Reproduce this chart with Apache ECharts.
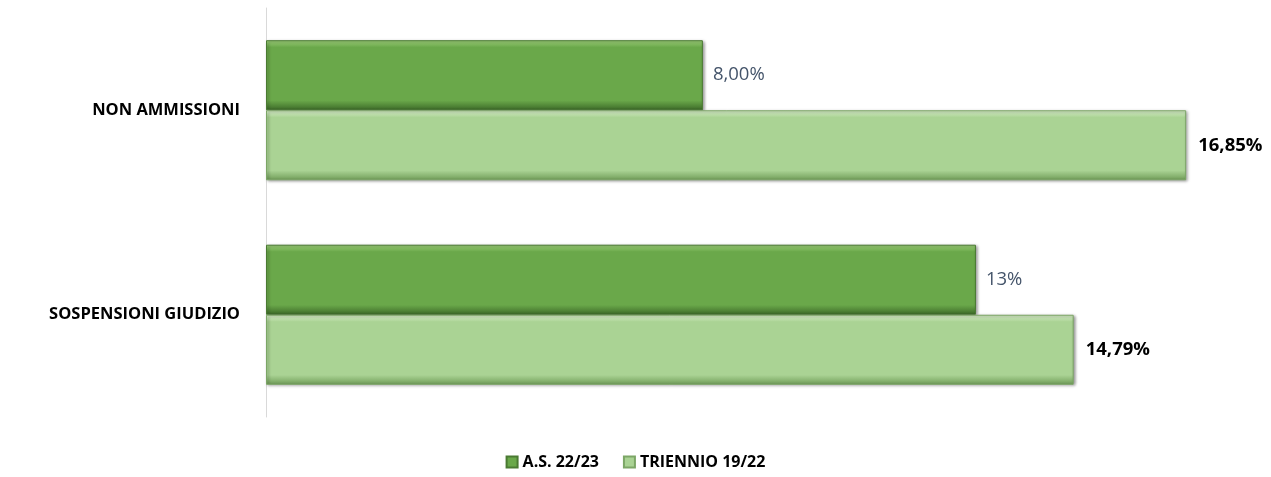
<!DOCTYPE html>
<html>
<head>
<meta charset="utf-8">
<script src="https://cdn.jsdelivr.net/npm/echarts@6/dist/echarts.min.js"></script>
<style>
  html, body { margin: 0; padding: 0; background: #fff; }
  #chart { width: 1271px; height: 477px; }
</style>
</head>
<body>
<div id="chart"></div>
<script>
const categories = ["NON AMMISSIONI", "SOSPENSIONI GIUDIZIO"];
const seriesNames = ["A.S. 22/23", "TRIENNIO 19/22"];
const asValues = [8.0, 13.0];
const trienValues = [16.85, 14.79];
const asLabels = ["8,00%", "13%"];
const trienLabels = ["16,85%", "14,79%"];

const font = "'Open Sans', 'Noto Sans', sans-serif";

// vertical gradient to fake the bevelled bars
const bevel = (light, base, dark) => new echarts.graphic.LinearGradient(0, 0, 0, 1, [
    { offset: 0, color: light },
    { offset: 0.1, color: base },
    { offset: 0.86, color: base },
    { offset: 1, color: dark }
]);

const chart = echarts.init(document.getElementById("chart"));
chart.setOption({
    animation: false,
    grid: { left: 266, right: 22, top: 8, bottom: 60, containLabel: false },
    xAxis: {
        type: "value",
        min: 0,
        max: 18,
        show: false
    },
    yAxis: {
        type: "category",
        data: categories,
        inverse: true,
        axisLine: { show: true, lineStyle: { color: "#d9d9d9", width: 1 } },
        axisTick: { show: false },
        axisLabel: {
            margin: 26,
            color: "#000",
            fontWeight: "bold",
            fontSize: 16.5,
            fontFamily: font
        }
    },
    legend: {
        bottom: 2,
        left: "center",
        itemWidth: 11,
        itemHeight: 11,
        itemGap: 24,
        icon: "rect",
        textStyle: { color: "#000", fontWeight: "bold", fontSize: 16, fontFamily: font }
    },
    series: [
        {
            name: seriesNames[0],
            type: "bar",
            data: asValues,
            barGap: "0%",
            barCategoryGap: "31.5%",
            itemStyle: {
                color: bevel("#a3d67e", "#6aa84a", "#3c6a28"),
                borderColor: "#4a7a32",
                borderWidth: 1,
                shadowColor: "rgba(0,0,0,0.4)",
                shadowBlur: 3,
                shadowOffsetX: 1.5,
                shadowOffsetY: 1
            },
            label: {
                show: true,
                position: "right",
                distance: 10,
                color: "#44546a",
                fontSize: 18.5,
                fontFamily: font,
                formatter: p => asLabels[p.dataIndex]
            }
        },
        {
            name: seriesNames[1],
            type: "bar",
            data: trienValues,
            itemStyle: {
                color: bevel("#ddf2cf", "#aad394", "#6f9c57"),
                borderColor: "#7ca666",
                borderWidth: 1,
                shadowColor: "rgba(0,0,0,0.4)",
                shadowBlur: 3,
                shadowOffsetX: 1.5,
                shadowOffsetY: 1
            },
            label: {
                show: true,
                position: "right",
                distance: 12,
                color: "#000",
                fontWeight: "bold",
                fontSize: 18.5,
                fontFamily: font,
                formatter: p => trienLabels[p.dataIndex]
            }
        }
    ]
});
</script>
</body>
</html>
